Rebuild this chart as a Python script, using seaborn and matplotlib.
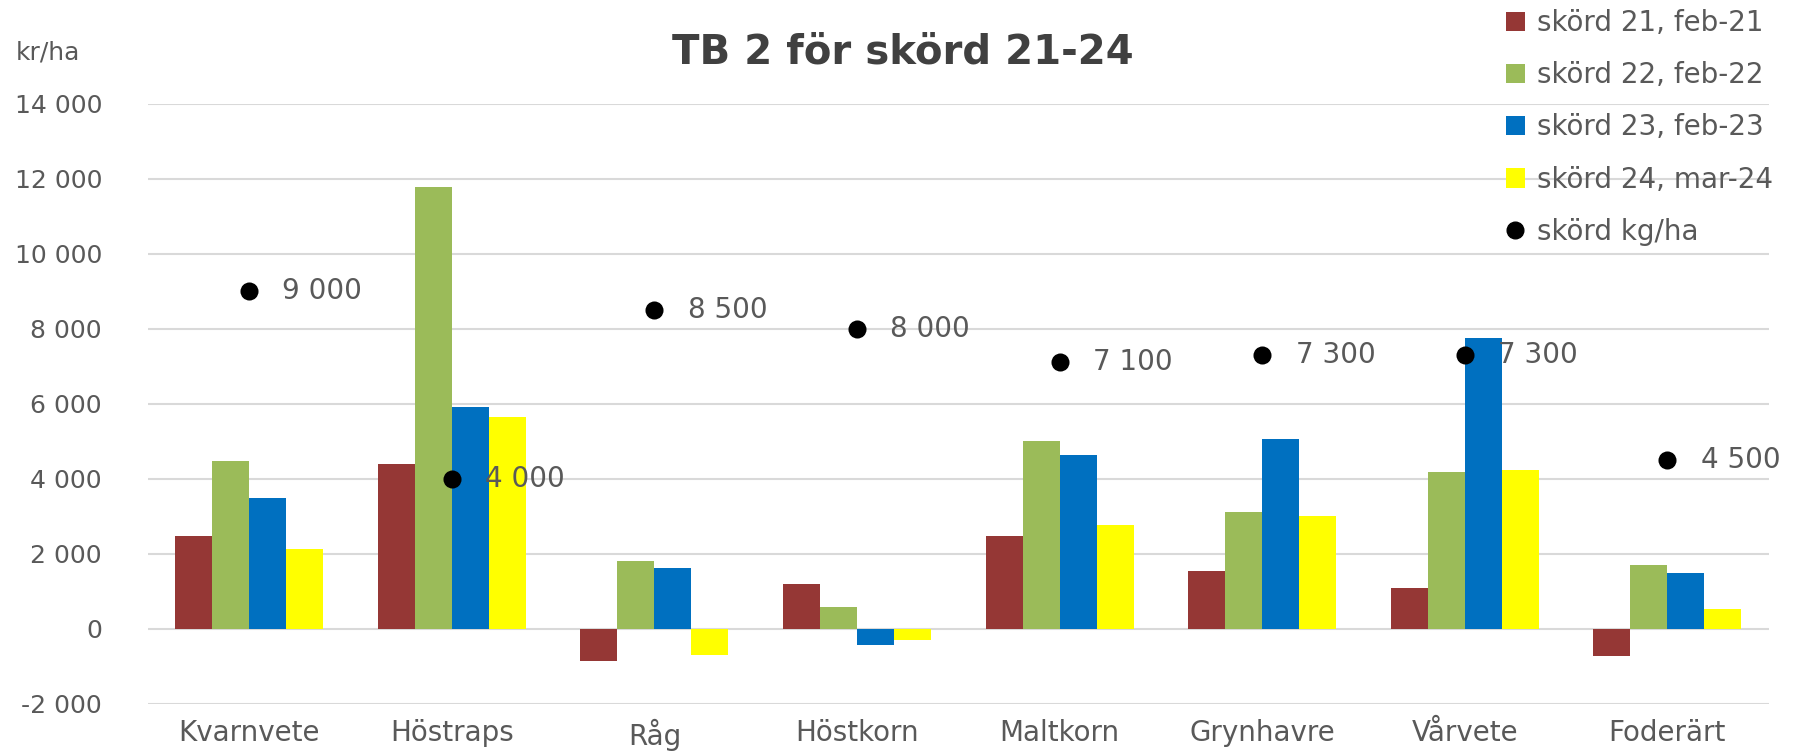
import numpy as np
import pandas as pd
import matplotlib
matplotlib.use("Agg")
import matplotlib.pyplot as plt
import seaborn as sns
from matplotlib.patches import Patch
from matplotlib.lines import Line2D

categories = ["Kvarnvete", "Höstraps", "Råg", "Höstkorn", "Maltkorn", "Grynhavre", "Vårvete", "Foderärt"]
series_names = ["skörd 21, feb-21", "skörd 22, feb-22", "skörd 23, feb-23", "skörd 24, mar-24"]
tb_21 = [2480, 4400, -870, 1200, 2470, 1540, 1080, -730]
tb_22 = [4480, 11780, 1810, 570, 5000, 3120, 4180, 1700]
tb_23 = [3480, 5920, 1610, -420, 4640, 5070, 7740, 1480]
tb_24 = [2120, 5650, -700, -310, 2780, 3010, 4220, 530]
yield_kg = [9000, 4000, 8500, 8000, 7100, 7300, 7300, 4500]
yield_name = "skörd kg/ha"
y_ticks = [-2000, 0, 2000, 4000, 6000, 8000, 10000, 12000, 14000]
y_tick_labels = ["-2 000", "0", "2 000", "4 000", "6 000", "8 000", "10 000", "12 000", "14 000"]
colors = ["#953735", "#9BBB59", "#0070C0", "#FFFF00"]

rows = []
for name, vals in zip(series_names, [tb_21, tb_22, tb_23, tb_24]):
    for c, v in zip(categories, vals):
        rows.append({"gröda": c, "serie": name, "kr/ha": v})
df = pd.DataFrame(rows)
dots = pd.DataFrame({"gröda": categories, "kg": yield_kg})

sns.set_style("white")
plt.rcParams["font.family"] = ["DejaVu Sans"]
txt = "#595959"

fig = plt.figure(figsize=(18.03, 7.56), dpi=100)
ax = fig.add_axes([0.082, 0.069, 0.899, 0.794])

sns.barplot(data=df, x="gröda", y="kr/ha", hue="serie", order=categories,
            hue_order=series_names, palette=colors, saturation=1, width=0.73,
            edgecolor="none", linewidth=0, ax=ax, zorder=2)
sns.stripplot(data=dots, x="gröda", y="kg", order=categories, jitter=False,
              color="black", size=13, ax=ax, zorder=4)
if ax.get_legend() is not None:
    ax.get_legend().remove()

for i, v in enumerate(yield_kg):
    ax.annotate(f"{v:,}".replace(",", " "), (i, v), xytext=(24, 0), textcoords="offset points",
                ha="left", va="center", fontsize=20, color=txt, zorder=5)

ax.set_ylim(-2000, 14000)
ax.set_xlim(-0.5, len(categories) - 0.5)
ax.set_yticks(y_ticks)
ax.set_yticklabels(y_tick_labels)
ax.yaxis.grid(True, color="#D9D9D9", linewidth=1.5, zorder=0)
ax.set_axisbelow(True)
ax.set_xlabel("")
ax.set_ylabel("")
for s in ax.spines.values():
    s.set_visible(False)
ax.tick_params(axis="y", length=0, labelsize=18, labelcolor=txt, pad=33)
ax.tick_params(axis="x", length=0, labelsize=20, labelcolor=txt, pad=11)

fig.text(0.501, 0.93, "TB 2 för skörd 21-24", ha="center", va="center",
         fontsize=29, fontweight="bold", color="#404040")
fig.text(0.009, 0.93, "kr/ha", ha="left", va="center", fontsize=18, color=txt)

handles = [Patch(facecolor=c, edgecolor="none") for c in colors]
handles.append(Line2D([0], [0], marker="o", color="none", markerfacecolor="black",
                      markeredgecolor="black", markersize=12))
labels = series_names + [yield_name]
fig.legend(handles, labels, loc="upper left", bbox_to_anchor=(0.835, 0.988), frameon=False,
           fontsize=20, labelcolor=txt, handlelength=0.7, handleheight=0.7,
           handletextpad=0.45, labelspacing=0.87, borderpad=0, borderaxespad=0)

fig.savefig("out.png", dpi=100)
